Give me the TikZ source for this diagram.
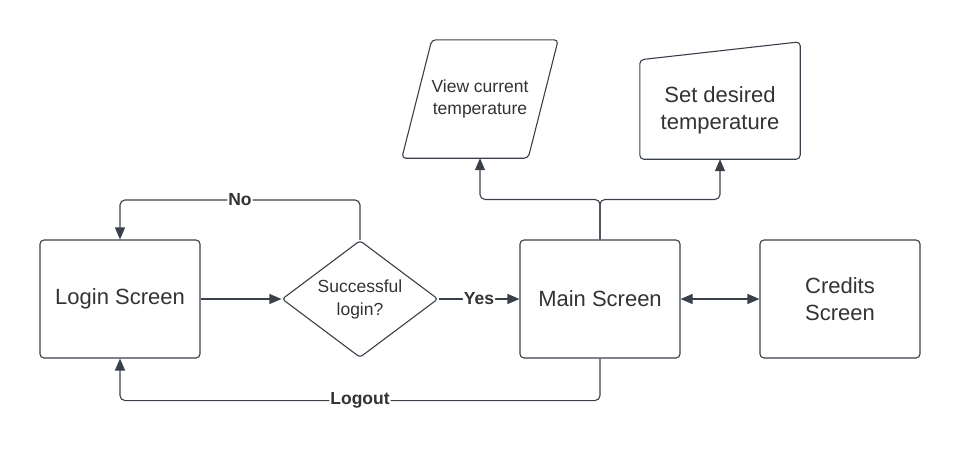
\documentclass[tikz,border=0pt]{standalone}
\usepackage{fontspec}
\setmainfont{Liberation Sans}
\usetikzlibrary{shapes.geometric,arrows.meta}
\definecolor{linegray}{HTML}{3A4049}
\definecolor{textgray}{HTML}{333333}

\begin{document}
\begin{tikzpicture}[x=1pt,y=-1pt,>={Triangle[length=12pt,width=10pt]},
    box/.style={draw=linegray,line width=1.1pt,rounded corners=4pt,minimum width=160pt,minimum height=118pt,align=center,text=textgray,font=\fontsize{22}{27}\selectfont},
    decision/.style={diamond,aspect=1.33,draw=linegray,line width=1.1pt,rounded corners=3pt,minimum width=156pt,minimum height=117pt,inner sep=0pt,align=center,text=textgray,font=\fontsize{17.5}{23}\selectfont},
    frame/.style={minimum width=#1,align=center,text=textgray},
    outline/.style={draw=linegray,line width=1.1pt,rounded corners=4pt},
    flow/.style={draw=linegray,line width=1.1pt,rounded corners=5pt,->},
    lbl/.style={fill=white,text=textgray,inner sep=1pt,font=\bfseries\fontsize{17.5}{20}\selectfont}]
    \useasboundingbox (0,0) rectangle (960,451);

    % main row
    \node[box] (login) at (120,299) {Login Screen};
    \node[decision] (check) at (360,299) {Successful\\login?};
    \node[box] (main) at (600,299) {Main Screen};
    \node[box] (credits) at (840,299) {Credits\\Screen};

    % top row
    \node[frame=156pt,minimum height=118pt,font=\fontsize{17.5}{22}\selectfont] (view) at (480,99) {View current\\temperature};
    \draw[outline] (view.south west) -- ([xshift=30pt]view.north west) -- (view.north east) -- ([xshift=-30pt]view.south east) -- cycle;
    \node[frame=160pt,minimum height=98pt,font=\fontsize{22}{27}\selectfont] (set) at (720,110) {Set desired\\temperature};
    \draw[outline] (set.south west) -- ([yshift=1pt]set.north west) -- ([yshift=19pt]set.north east) -- (set.south east) -- cycle;

    % connectors
    \draw[flow] (login) -- (check);
    \draw[flow] (check) -- (main) node[lbl,midway] {Yes};
    \draw[flow] (check.north) -- ++(0,-40) -| (login.north) node[lbl,pos=0.25] {No};
    \draw[flow] (main.south) -- ++(0,42) -| (login.south) node[lbl,pos=0.25] {Logout};
    \draw[flow,<->] (main) -- (credits);
    \draw[flow] (main.north) -- ++(0,-40) -| (view.south);
    \draw[flow] (main.north) -- ++(0,-40) -| (set.south);
\end{tikzpicture}
\end{document}
